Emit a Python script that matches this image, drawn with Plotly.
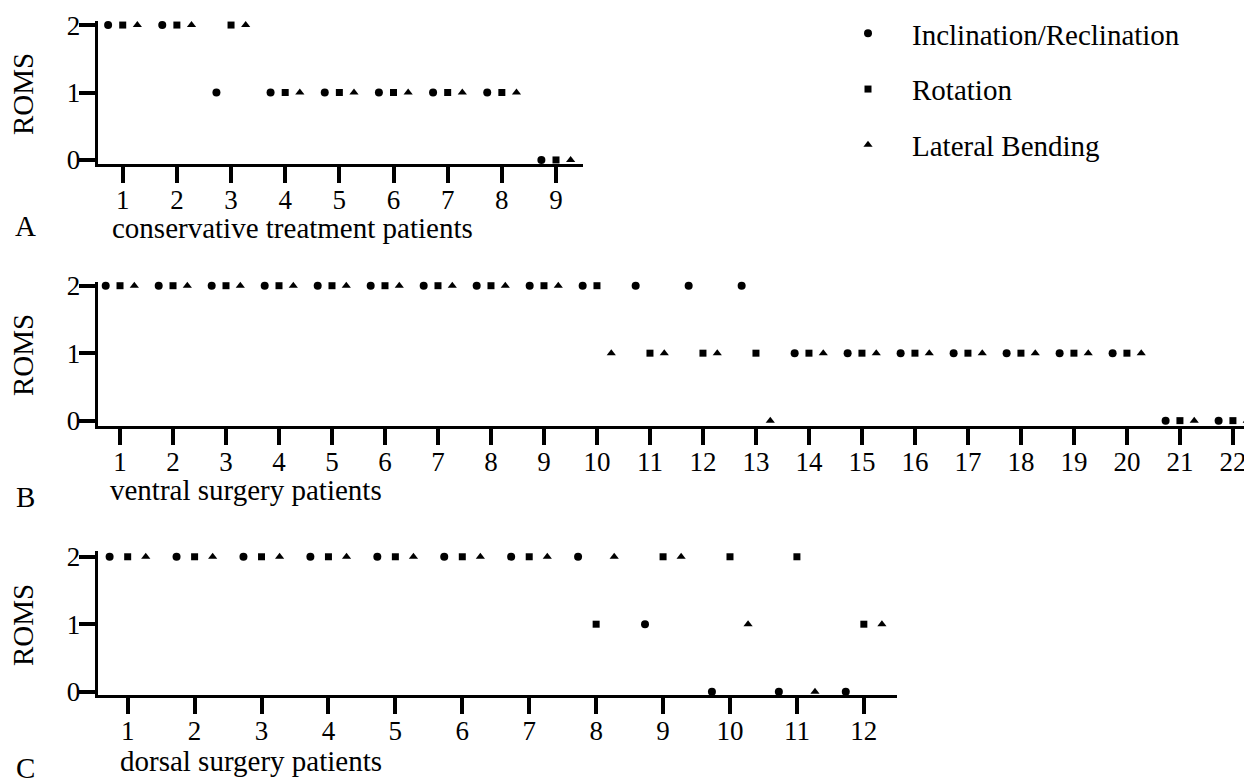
import plotly.graph_objects as go

W, H = 1252, 778
OX, OY = 8, 8  # page body offset of the figure
FONT = "Liberation Serif"

# ---------------- data ----------------
series_names = ["Inclination/Reclination", "Rotation", "Lateral Bending"]
series_symbols = ["circle", "square", "triangle-up"]

conservative_patients = [1, 2, 3, 4, 5, 6, 7, 8, 9]
conservative_incl = [2, 2, 1, 1, 1, 1, 1, 1, 0]
conservative_rot = [2, 2, 2, 1, 1, 1, 1, 1, 0]
conservative_lat = [2, 2, 2, 1, 1, 1, 1, 1, 0]

ventral_patients = [1, 2, 3, 4, 5, 6, 7, 8, 9, 10, 11, 12, 13, 14, 15, 16, 17, 18, 19, 20, 21, 22]
ventral_incl = [2, 2, 2, 2, 2, 2, 2, 2, 2, 2, 2, 2, 2, 1, 1, 1, 1, 1, 1, 1, 0, 0]
ventral_rot = [2, 2, 2, 2, 2, 2, 2, 2, 2, 2, 1, 1, 1, 1, 1, 1, 1, 1, 1, 1, 0, 0]
ventral_lat = [2, 2, 2, 2, 2, 2, 2, 2, 2, 1, 1, 1, 0, 1, 1, 1, 1, 1, 1, 1, 0, 0]

dorsal_patients = [1, 2, 3, 4, 5, 6, 7, 8, 9, 10, 11, 12]
dorsal_incl = [2, 2, 2, 2, 2, 2, 2, 2, 1, 0, 0, 0]
dorsal_rot = [2, 2, 2, 2, 2, 2, 2, 1, 2, 2, 2, 1]
dorsal_lat = [2, 2, 2, 2, 2, 2, 2, 2, 2, 1, 0, 1]

y_tick_values = [0, 1, 2]
y_tick_labels = ["0", "1", "2"]

panel_letters = ["A", "B", "C"]
panel_titles = ["conservative treatment patients", "ventral surgery patients", "dorsal surgery patients"]
y_title = "ROMS"

# ---------------- style ----------------
dodge = [-0.27, 0.0, 0.27]
marker_sizes = [8, 7, 8]


def px_x(v):
    return (v - OX) / W


def px_y(v):
    return 1 - (v - OY) / H


panels = [
    dict(patients=conservative_patients, values=[conservative_incl, conservative_rot, conservative_lat],
         xpx=(97.7, 583.3), ypx=(21, 164), xr=(0.538, 9.504), yr=(-0.06, 2.06),
         letter_y=226, title_y=228, title_x=110, roms_y=94),
    dict(patients=ventral_patients, values=[ventral_incl, ventral_rot, ventral_lat],
         xpx=(97.7, 1252), ypx=(282, 425.5), xr=(0.579, 22.36), yr=(-0.072, 2.055),
         letter_y=497, title_y=490, title_x=108, roms_y=355),
    dict(patients=dorsal_patients, values=[dorsal_incl, dorsal_rot, dorsal_lat],
         xpx=(97.7, 897.3), ypx=(550.7, 695), xr=(0.552, 12.50), yr=(-0.05, 2.09),
         letter_y=768, title_y=761, title_x=118, roms_y=625),
]

fig = go.Figure()
annotations = []
layout_axes = {}
tfont = dict(family=FONT, size=29, color="black")

for i, p in enumerate(panels):
    suffix = "" if i == 0 else str(i + 1)
    xname, yname = "x" + suffix, "y" + suffix
    for s in range(3):
        fig.add_trace(go.Scatter(
            x=[pt + dodge[s] for pt in p["patients"]],
            y=p["values"][s],
            mode="markers",
            name=series_names[s],
            legendgroup=series_names[s],
            showlegend=(i == 0),
            marker=dict(symbol=series_symbols[s], size=marker_sizes[s], color="black",
                        line=dict(width=0)),
            xaxis=xname, yaxis=yname,
            cliponaxis=False,
        ))
    common = dict(showline=True, linewidth=3, linecolor="black", ticks="outside",
                  ticklen=16, tickwidth=3.5, tickcolor="black", showgrid=False,
                  zeroline=False, automargin=False,
                  tickfont=dict(family=FONT, size=27, color="black"))
    layout_axes["xaxis" + suffix] = dict(
        domain=[px_x(p["xpx"][0]), min(1.0, px_x(p["xpx"][1]))], range=list(p["xr"]), anchor=yname,
        tickmode="array", tickvals=p["patients"], ticktext=[str(v) for v in p["patients"]],
        ticklabelstandoff=-6, **common)
    layout_axes["yaxis" + suffix] = dict(
        domain=[px_y(p["ypx"][1]), px_y(p["ypx"][0])], range=list(p["yr"]), anchor=xname,
        tickmode="array", tickvals=y_tick_values, ticktext=y_tick_labels,
        ticklabelstandoff=-7, **common)
    annotations.append(dict(text=panel_letters[i], x=px_x(25), y=px_y(p["letter_y"]),
                            xref="paper", yref="paper", showarrow=False,
                            xanchor="center", yanchor="middle", font=tfont))
    annotations.append(dict(text=panel_titles[i], x=px_x(p["title_x"]), y=px_y(p["title_y"]),
                            xref="paper", yref="paper", showarrow=False,
                            xanchor="left", yanchor="middle", font=tfont))
    annotations.append(dict(text=y_title, x=px_x(23), y=px_y(p["roms_y"]),
                            xref="paper", yref="paper", showarrow=False, textangle=-90,
                            xanchor="center", yanchor="middle", font=tfont))

fig.update_layout(
    width=W, height=H,
    margin=dict(l=0, r=0, t=0, b=0, autoexpand=False),
    paper_bgcolor="white", plot_bgcolor="white",
    showlegend=True,
    legend=dict(x=px_x(824), y=1.0, xanchor="left", yanchor="top",
                font=tfont, tracegroupgap=15, bgcolor="rgba(0,0,0,0)",
                itemsizing="trace", itemwidth=78),
    annotations=annotations,
    **layout_axes,
)

fig.write_html("out.html")
